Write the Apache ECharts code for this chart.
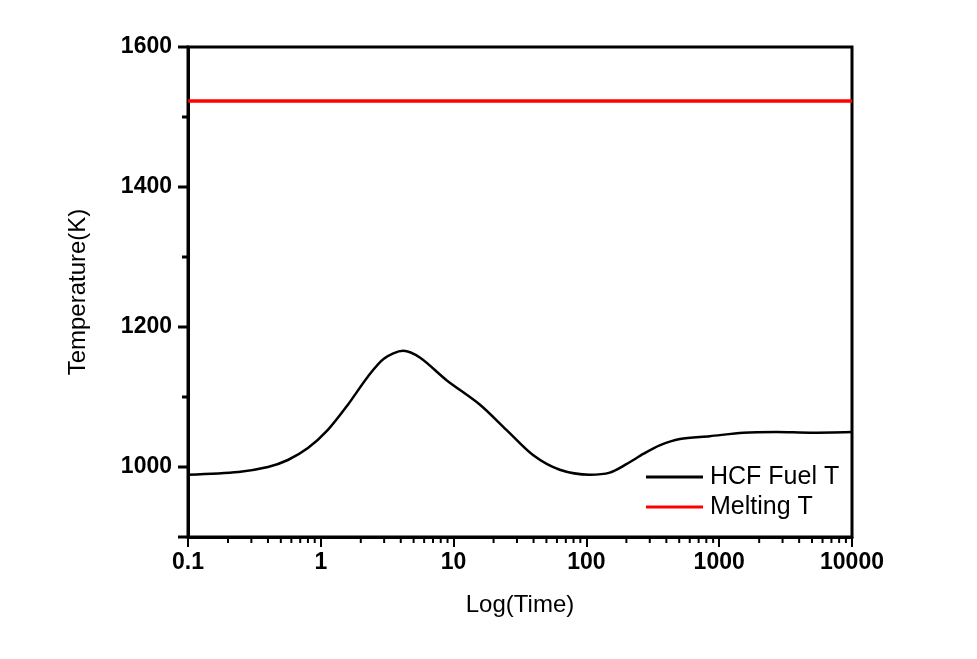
<!DOCTYPE html>
<html>
<head>
<meta charset="utf-8">
<script src="https://cdn.jsdelivr.net/npm/echarts@6/dist/echarts.min.js"></script>
<style>
  html, body { margin: 0; padding: 0; background: #fff; }
  #chart { width: 977px; height: 659px; }
</style>
</head>
<body>
<div id="chart"></div>
<script>
// time (log scale) and fuel temperature
const times = [0.1, 0.24, 0.4, 0.565, 0.8, 1.13, 1.6, 2.26, 3.0, 4.17, 5.6, 8.85, 15.8, 25, 39.6, 63, 106, 150, 200, 270, 356, 506, 850, 1520, 2700, 4840, 10000]
const fuelTemp = [989, 993, 1000, 1010, 1027, 1053, 1089, 1129, 1155, 1166, 1156, 1124, 1089, 1053, 1017, 996, 989, 992, 1004, 1019, 1031, 1040, 1044, 1049, 1050, 1049, 1050]
const meltingTemp = 1523

const yMajorTicks = [900, 1000, 1200, 1400, 1600]
const yMinorTicks = [1100, 1300, 1500]
const decades = [0.1, 1, 10, 100, 1000]
const minorSteps = [2, 3, 4, 5, 6, 7, 8, 9]

const FONT = '"Liberation Sans", Arial, sans-serif'

const fuelData = times.map((t, i) => [t, fuelTemp[i]])
const meltData = [[0.1, meltingTemp], [10000, meltingTemp]]

const xMinor = []
decades.forEach(d => minorSteps.forEach(s => xMinor.push([+(d * s).toPrecision(3), 900])))
const yTicks = yMajorTicks.map(v => [0.1, v, 10]).concat(yMinorTicks.map(v => [0.1, v, 6]))

const chart = echarts.init(document.getElementById('chart'))
chart.setOption({
  animation: false,
  grid: {
    left: 188, right: 125, top: 47, bottom: 122,
    show: true, borderColor: '#000', borderWidth: 3,
  },
  legend: {
    data: ['HCF Fuel T', 'Melting T'],
    orient: 'vertical',
    left: 646,
    top: 462,
    padding: 0,
    itemGap: 0,
    itemWidth: 57,
    itemHeight: 3,
    icon: 'rect',
    textStyle: { fontFamily: FONT, fontSize: 25, lineHeight: 30, color: '#000', padding: [0, 0, 0, 2] },
  },
  xAxis: {
    type: 'log',
    logBase: 10,
    min: 0.1,
    max: 10000,
    name: 'Log(Time)',
    nameLocation: 'middle',
    nameGap: 56,
    nameTextStyle: { fontFamily: FONT, fontSize: 24, color: '#000' },
    axisLine: { show: true, lineStyle: { color: '#000', width: 3 } },
    axisTick: { show: true, length: 10, lineStyle: { color: '#000', width: 2 } },
    splitLine: { show: false },
    axisLabel: {
      fontFamily: FONT, fontSize: 23, fontWeight: 'bold', color: '#000', margin: 14,
      formatter: v => String(+v.toPrecision(3)),
    },
  },
  yAxis: {
    type: 'value',
    min: 900,
    max: 1600,
    interval: 100,
    name: 'Temperature(K)',
    nameLocation: 'middle',
    nameGap: 98,
    nameTextStyle: { fontFamily: FONT, fontSize: 24, color: '#000' },
    axisLine: { show: true, lineStyle: { color: '#000', width: 3 } },
    axisTick: { show: false },
    splitLine: { show: false },
    axisLabel: {
      fontFamily: FONT, fontSize: 23, fontWeight: 'bold', color: '#000', margin: 16,
      formatter: v => (v % 200 === 0 && v >= 1000 ? String(v) : ''),
    },
  },
  series: [
    {
      name: 'HCF Fuel T',
      type: 'line',
      data: fuelData,
      smooth: 0.3,
      symbol: 'none',
      lineStyle: { color: '#000', width: 2.5 },
      itemStyle: { color: '#000' },
      z: 3,
    },
    {
      name: 'Melting T',
      type: 'line',
      data: meltData,
      symbol: 'none',
      lineStyle: { color: '#ff0000', width: 3.5 },
      itemStyle: { color: '#ff0000' },
      z: 3,
    },
    {
      type: 'custom',
      data: xMinor,
      silent: true,
      renderItem: (params, api) => {
        const p = api.coord([api.value(0), api.value(1)])
        return {
          type: 'line',
          shape: { x1: p[0], y1: p[1], x2: p[0], y2: p[1] + 6 },
          style: { stroke: '#000', lineWidth: 2 },
        }
      },
    },
    {
      type: 'custom',
      data: yTicks,
      silent: true,
      renderItem: (params, api) => {
        const p = api.coord([api.value(0), api.value(1)])
        const len = api.value(2)
        return {
          type: 'line',
          shape: { x1: p[0] - len, y1: p[1], x2: p[0], y2: p[1] },
          style: { stroke: '#000', lineWidth: 3 },
        }
      },
    },
  ],
})
</script>
</body>
</html>
